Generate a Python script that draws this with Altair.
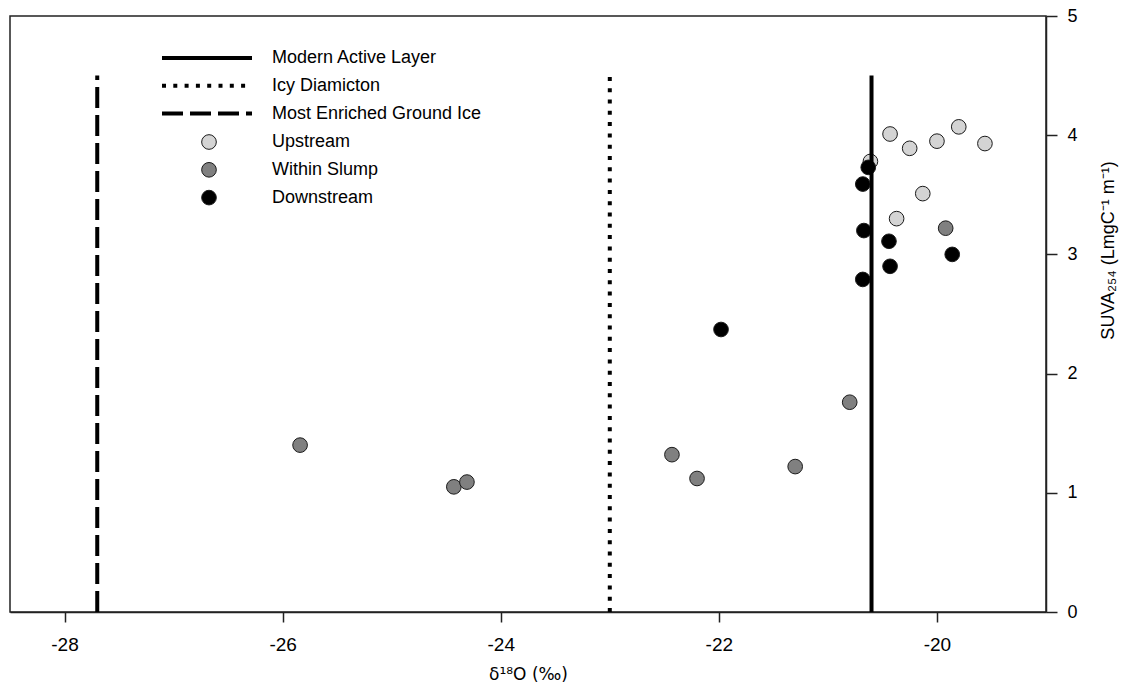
import altair as alt
import pandas as pd

# Stream samples: d18O (per mil) and SUVA254
up_x = [-20.43, -20.25, -20.00, -19.80, -19.56, -20.61, -20.13, -20.37]
up_y = [4.01, 3.89, 3.95, 4.07, 3.93, 3.78, 3.51, 3.30]
slump_x = [-25.84, -24.43, -24.31, -22.43, -22.20, -21.30, -20.80, -19.92]
slump_y = [1.40, 1.05, 1.09, 1.32, 1.12, 1.22, 1.76, 3.22]
down_x = [-20.63, -20.68, -20.67, -20.44, -20.43, -20.68, -19.86, -21.98]
down_y = [3.73, 3.59, 3.20, 3.11, 2.90, 2.79, 3.00, 2.37]

groups = ["Upstream", "Within Slump", "Downstream"]
group_fill = ["#d4d4d4", "#808080", "#000000"]

# Reference d18O values of the source waters
ref_names = ["Modern Active Layer", "Icy Diamicton", "Most Enriched Ground Ice"]
ref_x = [-20.6, -23.0, -27.7]
ref_bottom = [0, 0, 0]
ref_top = [4.5, 4.5, 4.5]

rows = []
for name, xs, ys in zip(groups, [up_x, slump_x, down_x], [up_y, slump_y, down_y]):
    for xv, yv in zip(xs, ys):
        rows.append({"d18O": xv, "suva": yv, "group": name})
pts = pd.DataFrame(rows)
pts["order"] = range(len(pts))

refs = pd.DataFrame({"d18O": ref_x, "suva": ref_bottom, "suva_top": ref_top, "name": ref_names})

FONT = "Liberation Sans"
x_title = "δ¹⁸O (‰)"
y_title = "SUVA₂₅₄ (LmgC⁻¹ m⁻¹)"

x_enc = alt.X(
    "d18O:Q",
    scale=alt.Scale(domain=[-28.5, -19], nice=False, zero=False),
    axis=alt.Axis(
        values=[-28, -26, -24, -22, -20],
        labelExpr="'' + datum.value",
        labelFontSize=19,
        tickSize=10,
        labelPadding=13,
        titlePadding=12,
        titleFont="DejaVu Sans",
        titleFontSize=17,
        grid=False,
    ),
    title=x_title,
)
y_enc = alt.Y(
    "suva:Q",
    scale=alt.Scale(domain=[0, 5], nice=False, zero=True),
    axis=alt.Axis(
        orient="right",
        values=[0, 1, 2, 3, 4, 5],
        tickSize=11,
        labelPadding=10,
        grid=False,
        titleAngle=270,
        titleX=62,
        titleY=234,
        titleAlign="center",
        titleBaseline="middle",
    ),
    title=y_title,
)

points = alt.Chart(pts).mark_circle(
    size=215, stroke="#1a1a1a", strokeWidth=1, opacity=1
).encode(
    x=x_enc,
    y=y_enc,
    fill=alt.Fill(
        "group:N",
        scale=alt.Scale(domain=groups, range=group_fill),
        legend=alt.Legend(
            title=None,
            orient="none",
            legendX=190,
            legendY=117,
            symbolType="circle",
            symbolSize=215,
            symbolStrokeColor="#1a1a1a",
            symbolStrokeWidth=1,
            symbolOpacity=1,
            labelOffset=54,
            labelFontSize=18,
            labelFont=FONT,
            labelColor="#000",
            labelLimit=400,
            rowPadding=7.8,
            padding=0,
        ),
    ),
    order=alt.Order("order:Q"),
)

# Legend line symbol: a long horizontal path so the row height stays small
line_symbol = "M-5,0H5"

rules = alt.Chart(refs).mark_rule(color="black", strokeWidth=4).encode(
    x=x_enc,
    y=y_enc,
    y2="suva_top:Q",
    strokeDash=alt.StrokeDash(
        "name:N",
        scale=alt.Scale(domain=ref_names, range=[[1, 0], [4, 7.3], [21, 7]]),
        legend=alt.Legend(
            title=None,
            orient="none",
            legendX=186,
            legendY=31,
            symbolType=line_symbol,
            symbolSize=324,
            symbolStrokeWidth=4,
            symbolStrokeColor="black",
            symbolFillColor="transparent",
            labelOffset=54,
            labelFontSize=18,
            labelFont=FONT,
            labelColor="#000",
            labelLimit=400,
            rowPadding=7.8,
            padding=0,
        ),
    ),
)

chart = (
    alt.layer(points, rules)
    .properties(
        width=1036,
        height=596,
        padding={"left": 10, "top": 16, "right": 99, "bottom": 75},
        autosize=alt.AutoSizeParams(type="none"),
        background="white",
    )
    .configure_view(stroke="#222", strokeWidth=1.5)
    .configure_axis(
        domainColor="#222",
        domainWidth=1.5,
        tickColor="#222",
        tickWidth=1.5,
        labelFont=FONT,
        labelFontSize=18,
        labelColor="#000",
        titleFont=FONT,
        titleFontSize=18,
        titleFontWeight="normal",
        titleColor="#000",
    )
)

chart.save("out.html", embed_options={"renderer": "svg", "actions": False})
